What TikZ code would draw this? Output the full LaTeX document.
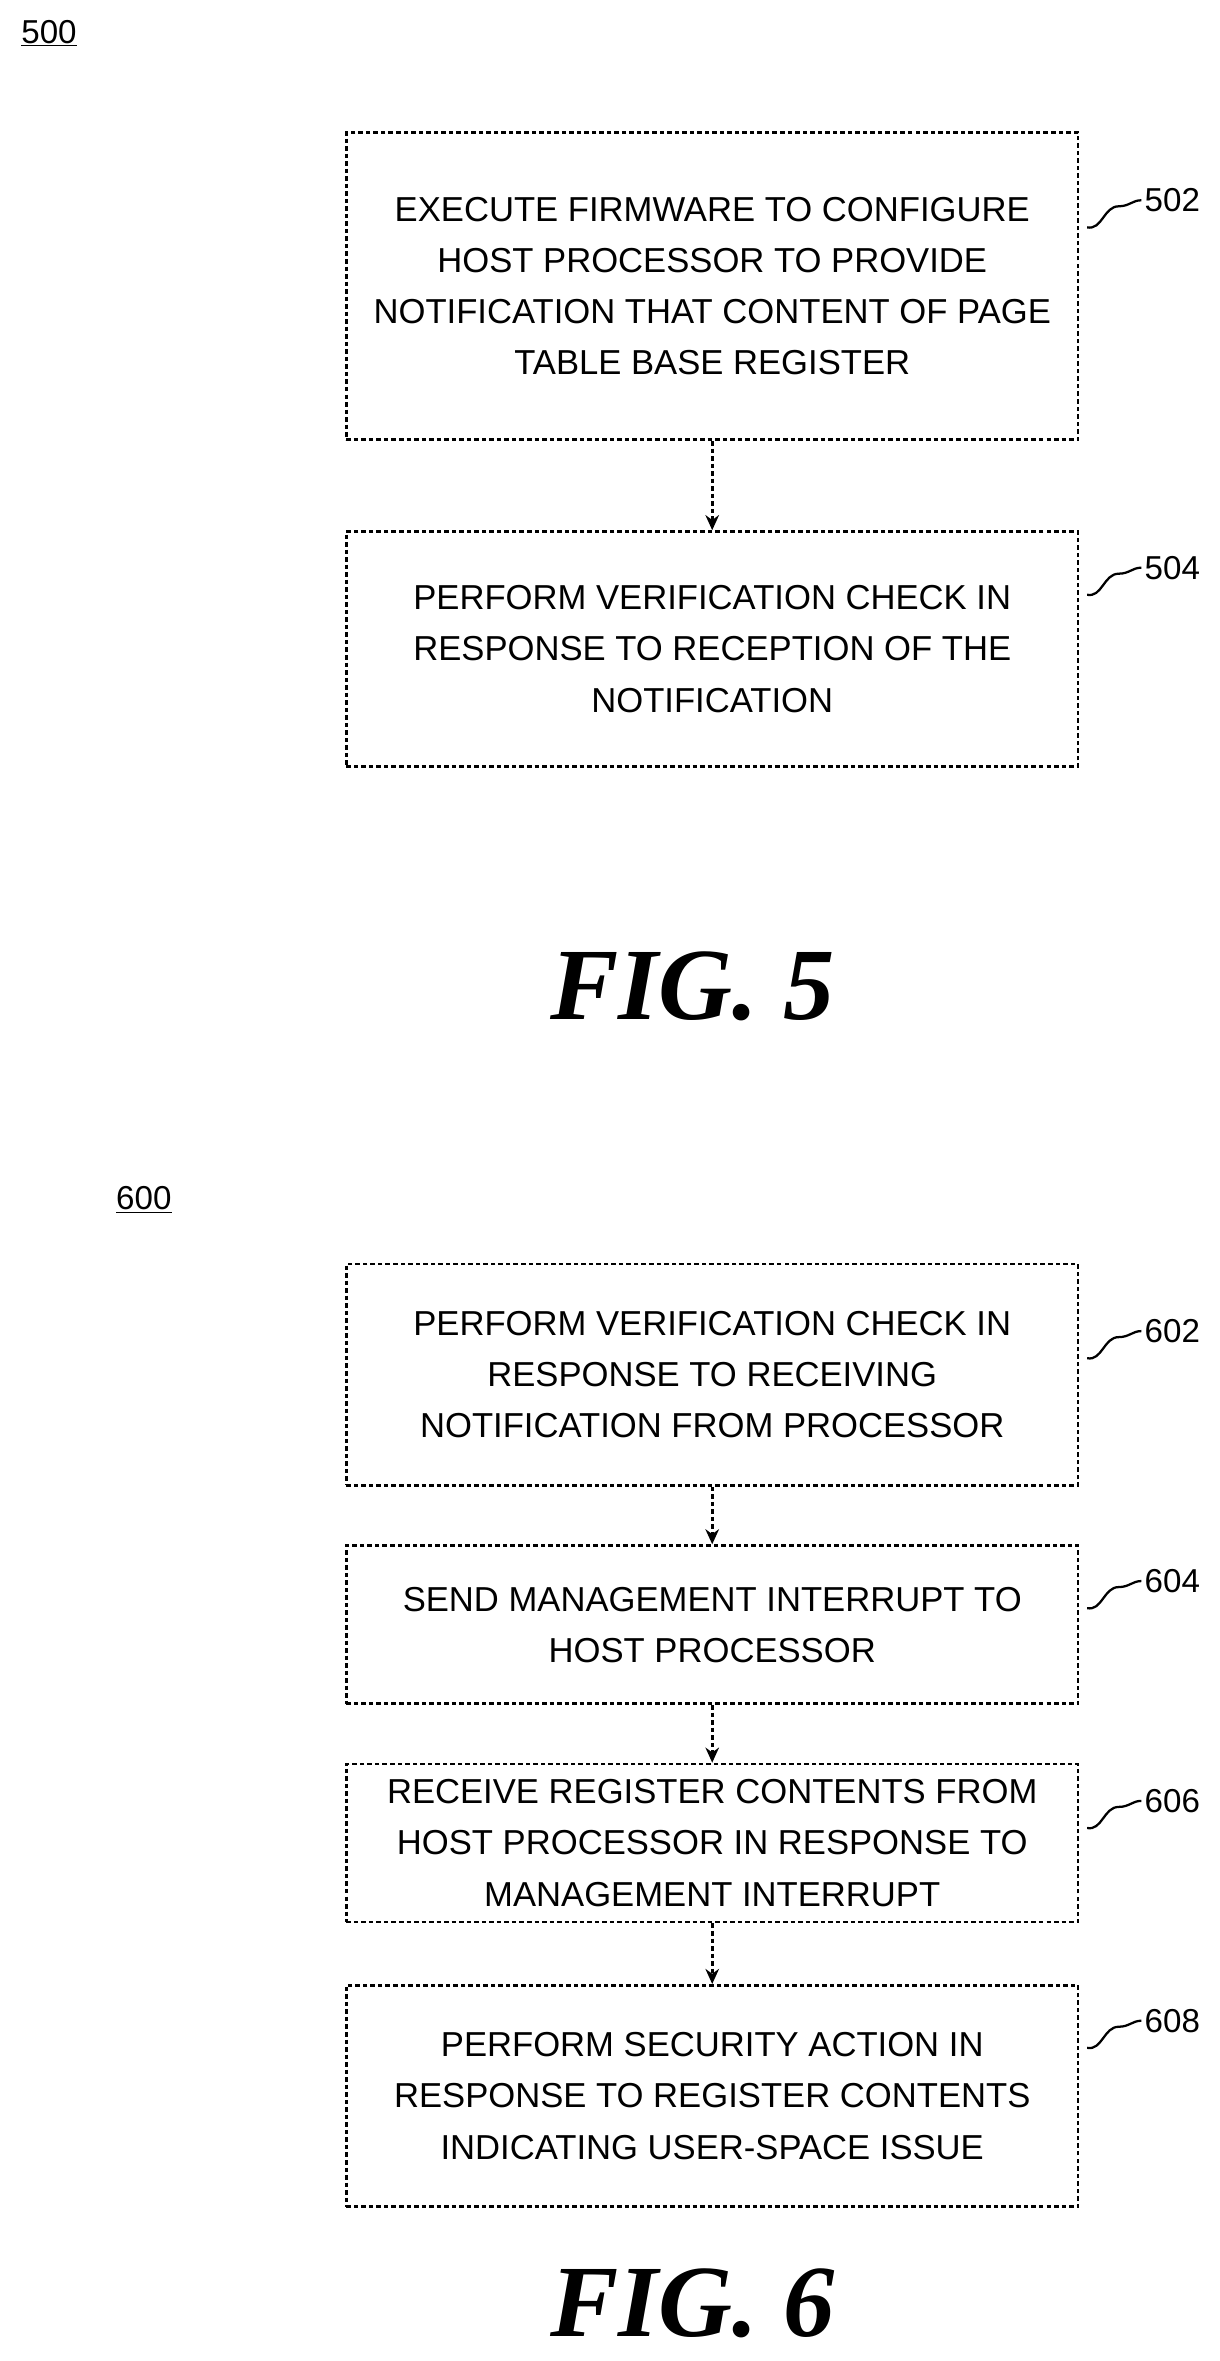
\documentclass[tikz,border=0pt]{standalone}
\usepackage{fontspec}
\setmainfont{Liberation Sans}
\newfontfamily\figfont{Liberation Serif}
\usetikzlibrary{positioning,arrows.meta}
\tikzset{
  stepbox/.style={draw, densely dashed, line width=1.8pt, inner sep=0pt, align=center,
    font=\fontsize{23}{34}\selectfont},
  flow/.style={densely dashed, line width=1.8pt, -{Stealth[length=10pt,width=9pt]}},
  tag/.style={line width=1.5pt},
  ref/.style={anchor=west, inner sep=0pt, font=\fontsize{22}{25}\selectfont},
  figlab/.style={font=\figfont\bfseries\itshape\fontsize{68}{70}\selectfont}
}
\begin{document}
\begin{tikzpicture}[x=1pt,y=1pt,yscale=-1]
	\useasboundingbox (0,0) rectangle (810,1568);

	% FIG. 5
	\node [anchor=west, inner sep=0pt, font=\fontsize{22}{25}\selectfont] (l500) at (14,22) {\underline{500}};
	\node [stepbox, minimum width=486pt, minimum height=204pt] (b502) at (473,190)
		{EXECUTE FIRMWARE TO CONFIGURE\\HOST PROCESSOR TO PROVIDE\\NOTIFICATION THAT CONTENT OF PAGE\\TABLE BASE REGISTER};
	\node [stepbox, minimum width=486pt, minimum height=156pt] (b504) at (473,431)
		{PERFORM VERIFICATION CHECK IN\\RESPONSE TO RECEPTION OF THE\\NOTIFICATION};
	\draw [flow] (b502) -- (b504);
	\node [figlab] (f5) at (460,655) {FIG. 5};

	% FIG. 6
	\node [anchor=west, inner sep=0pt, font=\fontsize{22}{25}\selectfont] (l600) at (77,797) {\underline{600}};
	\node [stepbox, minimum width=486pt, minimum height=147pt] (b602) at (473,913)
		{PERFORM VERIFICATION CHECK IN\\RESPONSE TO RECEIVING\\NOTIFICATION FROM PROCESSOR};
	\node [stepbox, minimum width=486pt, minimum height=105pt] (b604) at (473,1079)
		{SEND MANAGEMENT INTERRUPT TO\\HOST PROCESSOR};
	\node [stepbox, minimum width=486pt, minimum height=105pt] (b606) at (473,1224)
		{RECEIVE REGISTER CONTENTS FROM\\HOST PROCESSOR IN RESPONSE TO\\MANAGEMENT INTERRUPT};
	\node [stepbox, minimum width=486pt, minimum height=147pt] (b608) at (473,1392)
		{PERFORM SECURITY ACTION IN\\RESPONSE TO REGISTER CONTENTS\\INDICATING USER-SPACE ISSUE};
	\draw [flow] (b602) -- (b604);
	\draw [flow] (b604) -- (b606);
	\draw [flow] (b606) -- (b608);
	\node [figlab] (f6) at (460,1530) {FIG. 6};

	% reference numerals
	\foreach \b/\n/\y in {b502/502/133, b504/504/377, b602/602/884, b604/604/1050, b606/606/1196, b608/608/1342} {
		\node [ref] (n\n) at (760,\y) {\n};
		\draw [tag] (722,\y+18) .. controls (732,\y+20) and (733,\y+4) .. (743,\y+4)
			.. controls (750,\y+4) and (752,\y) .. (758,\y);
	}
\end{tikzpicture}
\end{document}
